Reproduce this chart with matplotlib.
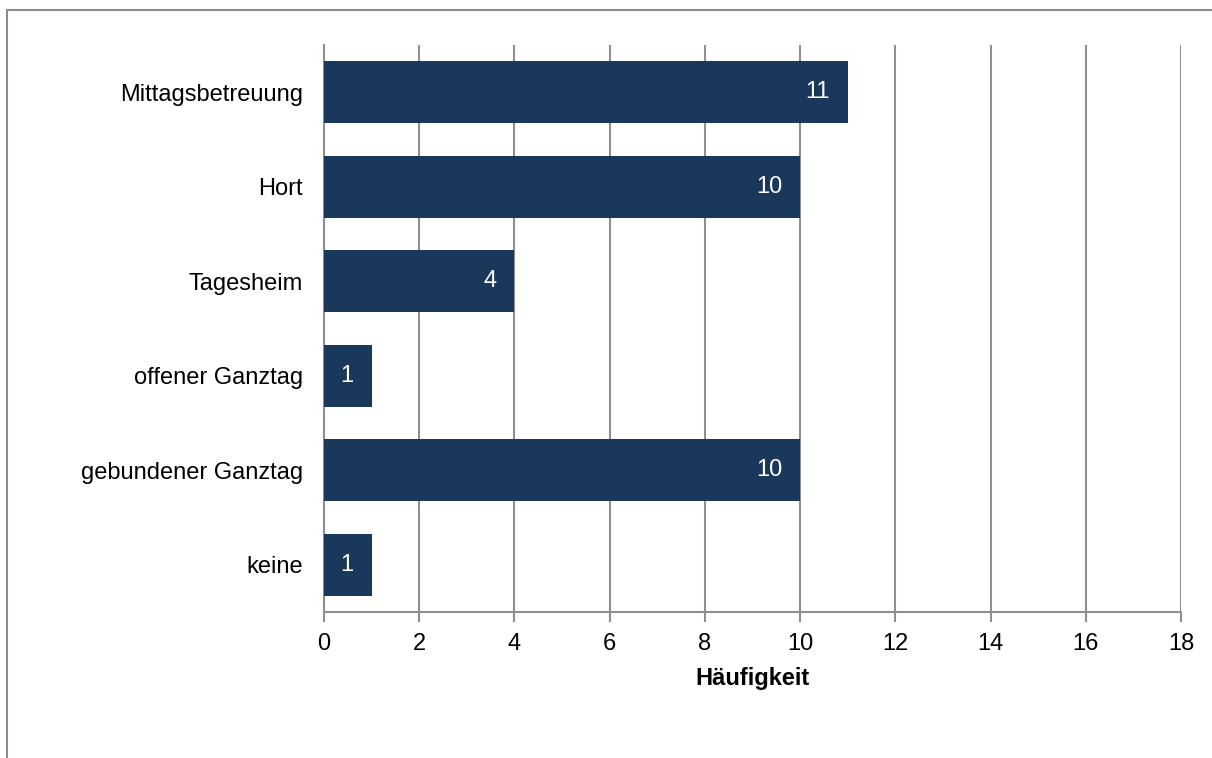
import matplotlib
matplotlib.use("Agg")
import matplotlib.pyplot as plt
from matplotlib.lines import Line2D

categories = ["Mittagsbetreuung", "Hort", "Tagesheim", "offener Ganztag", "gebundener Ganztag", "keine"]
values = [11, 10, 4, 1, 10, 1]
xticks = [0, 2, 4, 6, 8, 10, 12, 14, 16, 18]
xlabel = "Häufigkeit"

plt.rcParams['font.family'] = ['Liberation Sans', 'DejaVu Sans']

W, H = 1212, 758
fig = plt.figure(figsize=(W / 100, H / 100), dpi=100)
ax = fig.add_axes([324 / W, 1 - 612 / H, (1181 - 324) / W, (612 - 45) / H])

bar_color = "#1a375c"
grid_color = "#8f8f8f"

ypos = list(range(len(categories)))
bars = ax.barh(ypos, values, height=0.66, color=bar_color, zorder=3)
ax.set_ylim(len(categories) - 0.5, -0.5)
ax.set_xlim(0, 18)
ax.set_yticks(ypos)
ax.set_yticklabels(categories, fontsize=17)
ax.set_xticks(xticks)
ax.set_xticklabels([str(t) for t in xticks], fontsize=17)

for b, v in zip(bars, values):
    ax.annotate(str(v), xy=(v, b.get_y() + b.get_height() / 2), xytext=(-18, 0),
                textcoords="offset pixels", ha="right", va="center",
                color="white", fontsize=17, zorder=4)

ax.grid(axis="x", color=grid_color, linewidth=1.5, zorder=0)
ax.grid(axis="y", visible=False)
for s in ["top", "right"]:
    ax.spines[s].set_visible(False)
for s in ["left", "bottom"]:
    ax.spines[s].set_color(grid_color)
    ax.spines[s].set_linewidth(1.5)
ax.tick_params(axis="y", length=0, pad=15)
ax.tick_params(axis="x", length=7, width=1.5, color=grid_color, direction="out", pad=8)

ax.set_xlabel(xlabel, fontsize=17, fontweight="bold", labelpad=9)

# outer chart frame (top and left visible)
fig.add_artist(Line2D([7 / W, 1.0], [1 - 10 / H, 1 - 10 / H], color="#8c8c8c", linewidth=1.5, transform=fig.transFigure))
fig.add_artist(Line2D([7 / W, 7 / W], [1 - 10 / H, 0], color="#8c8c8c", linewidth=1.5, transform=fig.transFigure))

fig.savefig("out.png", dpi=100)
